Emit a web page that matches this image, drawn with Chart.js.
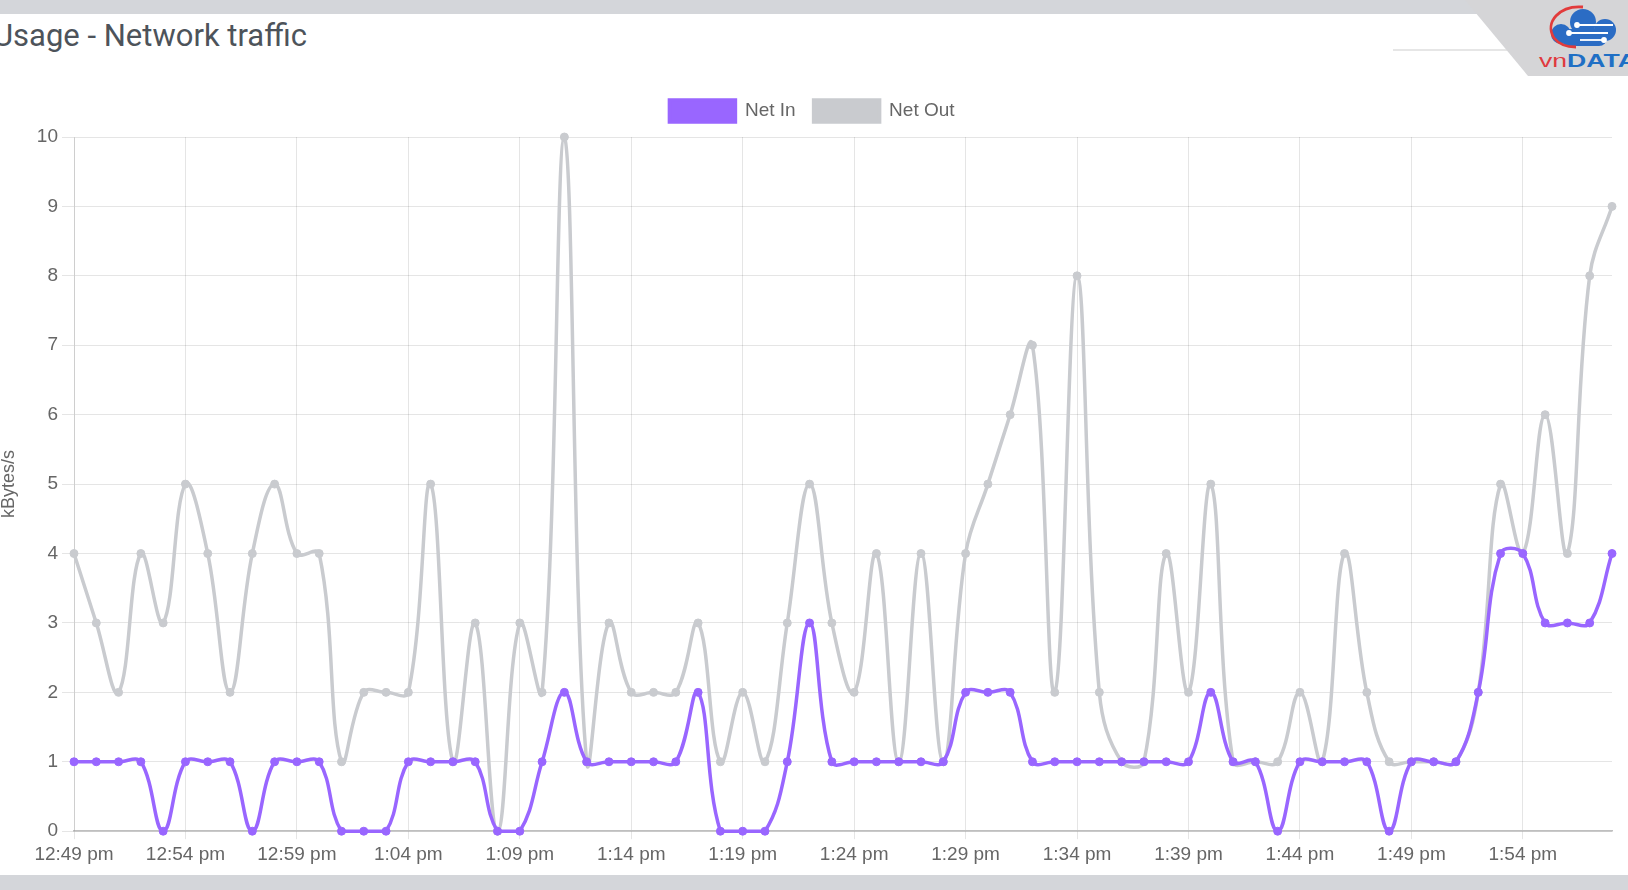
<!DOCTYPE html>
<html>
<head>
<meta charset="utf-8">
<title>Usage - Network traffic</title>
<script src="https://cdn.jsdelivr.net/npm/chart.js@4.4.1/dist/chart.umd.min.js"></script>
<style>
html, body { margin: 0; padding: 0; background: #fff; }
body { width: 1628px; height: 890px; position: relative; overflow: hidden; }
.band { position: absolute; left: 0; width: 1628px; background: #d4d6da; }
#title {
    position: absolute; left: -7px; top: 20px;
    font: 31px/31px Roboto, 'Liberation Sans', sans-serif;
    color: #4d535a; white-space: nowrap;
}
#logo { position: absolute; left: 1380px; top: 0; }
#wrap { position: absolute; left: 0; top: 70px; }
</style>
</head>
<body>
<div class="band" style="top:0;height:14px"></div>
<div id="title">Usage - Network traffic</div>
<svg id="logo" width="248" height="90" viewBox="0 0 248 90">
    <line x1="13" y1="50" x2="127" y2="50" stroke="#e6e6e6" stroke-width="2"/>
    <polygon points="85,0 248,0 248,76 148,76" fill="#d5d5d7"/>
    <g fill="#2b6cc4">
        <circle cx="203" cy="22" r="13"/>
        <circle cx="225" cy="30" r="11"/>
        <circle cx="181" cy="34" r="10"/>
        <rect x="181" y="29" width="46" height="17" rx="8"/>
    </g>
    <g stroke="#fff" stroke-width="1.8" fill="#fff">
        <line x1="197" y1="25" x2="233" y2="25"/>
        <line x1="189" y1="33" x2="228" y2="33"/>
        <line x1="200" y1="40" x2="224" y2="40"/>
        <circle cx="197" cy="25" r="2"/>
        <circle cx="189" cy="33" r="2"/>
        <circle cx="224" cy="40" r="2"/>
    </g>
    <path d="M 203 7 C 180 5 164 22 174 38 Q 181 47 196 47" stroke="#e23b3b" stroke-width="2.8" fill="none"/>
    <text x="159" y="67" font-family="'Liberation Sans', Arial, sans-serif" font-size="19" font-weight="bold" textLength="98" lengthAdjust="spacingAndGlyphs"><tspan fill="#e0393e" font-weight="normal">vn</tspan><tspan fill="#1f6fc5">DATA</tspan></text>
</svg>
<div id="wrap"><canvas id="traffic" width="1625" height="805"></canvas></div>
<div class="band" style="top:875px;height:15px"></div>

<script>
// one sample per minute, 12:49 pm - 1:58 pm
var timeLabels = [
    '12:49 pm', '12:50 pm', '12:51 pm', '12:52 pm', '12:53 pm', '12:54 pm', '12:55 pm', '12:56 pm', '12:57 pm', '12:58 pm',
    '12:59 pm', '1:00 pm', '1:01 pm', '1:02 pm', '1:03 pm', '1:04 pm', '1:05 pm', '1:06 pm', '1:07 pm', '1:08 pm',
    '1:09 pm', '1:10 pm', '1:11 pm', '1:12 pm', '1:13 pm', '1:14 pm', '1:15 pm', '1:16 pm', '1:17 pm', '1:18 pm',
    '1:19 pm', '1:20 pm', '1:21 pm', '1:22 pm', '1:23 pm', '1:24 pm', '1:25 pm', '1:26 pm', '1:27 pm', '1:28 pm',
    '1:29 pm', '1:30 pm', '1:31 pm', '1:32 pm', '1:33 pm', '1:34 pm', '1:35 pm', '1:36 pm', '1:37 pm', '1:38 pm',
    '1:39 pm', '1:40 pm', '1:41 pm', '1:42 pm', '1:43 pm', '1:44 pm', '1:45 pm', '1:46 pm', '1:47 pm', '1:48 pm',
    '1:49 pm', '1:50 pm', '1:51 pm', '1:52 pm', '1:53 pm', '1:54 pm', '1:55 pm', '1:56 pm', '1:57 pm', '1:58 pm'
];

var netIn = [
    1, 1, 1, 1, 0, 1, 1, 1, 0, 1,
    1, 1, 0, 0, 0, 1, 1, 1, 1, 0,
    0, 1, 2, 1, 1, 1, 1, 1, 2, 0,
    0, 0, 1, 3, 1, 1, 1, 1, 1, 1,
    2, 2, 2, 1, 1, 1, 1, 1, 1, 1,
    1, 2, 1, 1, 0, 1, 1, 1, 1, 0,
    1, 1, 1, 2, 4, 4, 3, 3, 3, 4
];

var netOut = [
    4, 3, 2, 4, 3, 5, 4, 2, 4, 5,
    4, 4, 1, 2, 2, 2, 5, 1, 3, 0,
    3, 2, 10, 1, 3, 2, 2, 2, 3, 1,
    2, 1, 3, 5, 3, 2, 4, 1, 4, 1,
    4, 5, 6, 7, 2, 8, 2, 1, 1, 4,
    2, 5, 1, 1, 1, 2, 1, 4, 2, 1,
    1, 1, 1, 2, 5, 4, 6, 4, 8, 9
];

var labelEvery = 5;

var purple = 'rgb(153, 102, 255)';
var grey = 'rgb(201, 203, 207)';

Chart.defaults.font.family = "'Liberation Sans', Arial, sans-serif";
Chart.defaults.color = '#666';

// a bit more room under the legend, and nudge it right a little
var legendGap = {
    id: 'legendGap',
    beforeUpdate: function(chart) {
        var legend = chart.legend;
        if (!legend || legend._gapPatched) return;
        var fit = legend.fit;
        legend.fit = function() {
            fit.call(this);
            this.height += 5;
            if (this.lineWidths && this.lineWidths.length) {
                this.lineWidths[0] -= 12;
            }
        };
        legend._gapPatched = true;
    }
};

function lineSet(label, values, color) {
    return {
        label: label,
        data: values,
        borderColor: color,
        backgroundColor: color,
        pointBackgroundColor: color,
        pointBorderColor: color,
        pointRadius: 4,
        pointBorderWidth: 1,
        borderWidth: 3.5,
        tension: 0.4,
        fill: false,
        clip: false
    };
}

var ctx = document.getElementById('traffic').getContext('2d');
var chart = new Chart(ctx, {
    type: 'line',
    data: {
        labels: timeLabels,
        datasets: [
            lineSet('Net In', netIn, purple),
            lineSet('Net Out', netOut, grey)
        ]
    },
    options: {
        responsive: false,
        animation: false,
        devicePixelRatio: 1,
        events: [],
        layout: { padding: { top: 12, right: 13, bottom: 5, left: 0 } },
        plugins: {
            legend: {
                position: 'top',
                labels: {
                    boxWidth: 66,
                    boxHeight: 22,
                    padding: 18,
                    color: '#666',
                    font: { size: 19 }
                }
            },
            tooltip: { enabled: false }
        },
        scales: {
            x: {
                grid: {
                    color: function(c) {
                        return c.index % labelEvery === 0 ? 'rgba(0,0,0,0.1)' : 'rgba(0,0,0,0)';
                    },
                    tickLength: 8
                },
                border: { color: 'rgba(0,0,0,0.25)', width: 1.5 },
                ticks: {
                    autoSkip: false,
                    maxRotation: 0,
                    minRotation: 0,
                    padding: 4,
                    color: '#666',
                    font: { size: 19 },
                    callback: function(value, index) {
                        return index % labelEvery === 0 ? timeLabels[index] : '';
                    }
                }
            },
            y: {
                min: 0,
                max: 10,
                afterFit: function(scale) {
                    scale.width = 74;
                },
                title: {
                    display: true,
                    text: 'kBytes/s',
                    color: '#666',
                    padding: 0,
                    font: { size: 18, lineHeight: 1 }
                },
                grid: { color: 'rgba(0,0,0,0.1)', tickLength: 12 },
                border: { color: 'rgba(0,0,0,0.1)' },
                ticks: {
                    stepSize: 1,
                    padding: 4,
                    color: '#666',
                    font: { size: 19 }
                }
            }
        }
    },
    plugins: [legendGap]
});
</script>
</body>
</html>
